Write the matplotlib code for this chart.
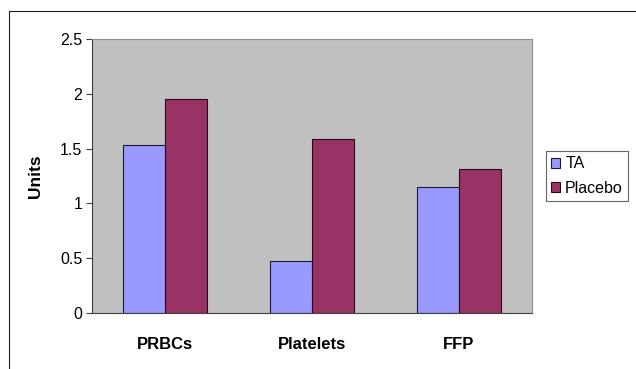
import numpy as np
import matplotlib
matplotlib.use('Agg')
import matplotlib.pyplot as plt
from matplotlib.patches import Rectangle

plt.rcParams['font.family'] = ['Liberation Sans', 'DejaVu Sans']

# data
categories = ['PRBCs', 'Platelets', 'FFP']
ta = [1.53, 0.47, 1.15]
placebo = [1.95, 1.585, 1.31]
series_names = ['TA', 'Placebo']
yticks = [0, 0.5, 1, 1.5, 2, 2.5]
ytick_labels = ['0', '0.5', '1', '1.5', '2', '2.5']

W, H = 636, 369
fig = plt.figure(figsize=(W / 100, H / 100), dpi=100)
ax = fig.add_axes([92 / W, 1 - 313 / H, 440 / W, 274 / H])
ax.set_facecolor('#c0c0c0')

x = np.arange(len(categories))
bw = 1 / 3.5
ax.bar(x - bw / 2, ta, bw, color='#9999ff', edgecolor='#1a1a3a', linewidth=0.8, label=series_names[0])
ax.bar(x + bw / 2, placebo, bw, color='#993366', edgecolor='#2a0a1a', linewidth=0.8, label=series_names[1])

ax.set_xlim(-0.5, len(categories) - 0.5)
ax.set_ylim(0, 2.5)
ax.set_yticks(yticks)
ax.set_yticklabels(ytick_labels, fontsize=11.5)
ax.set_xticks(x)
ax.set_xticklabels(categories, fontsize=12, fontweight='bold')
ax.tick_params(axis='x', length=0, pad=17)
ax.tick_params(axis='y', direction='out', length=4, color='#404040', pad=3)
ax.set_ylabel('Units', fontsize=12.5, fontweight='bold', labelpad=12)

for s in ['top', 'right']:
    ax.spines[s].set_color('#909090')
for s in ['left', 'bottom']:
    ax.spines[s].set_color('#404040')

leg = ax.legend(loc='center left', bbox_to_anchor=((546 - 92) / 440, (313 - 176) / 274),
                fontsize=11.5, frameon=True, fancybox=False, edgecolor='#404040',
                handlelength=0.6, handleheight=0.6, handletextpad=0.3,
                borderpad=0.3, labelspacing=0.6, borderaxespad=0)
leg.get_frame().set_linewidth(0.8)

# outer chart border
fig.patches.append(Rectangle((9 / W, -0.05), (W - 9 + 5) / W, 1 - 11 / H + 0.05,
                             transform=fig.transFigure, fill=False,
                             edgecolor='#202020', linewidth=0.8))

fig.savefig('out.png', dpi=100)
